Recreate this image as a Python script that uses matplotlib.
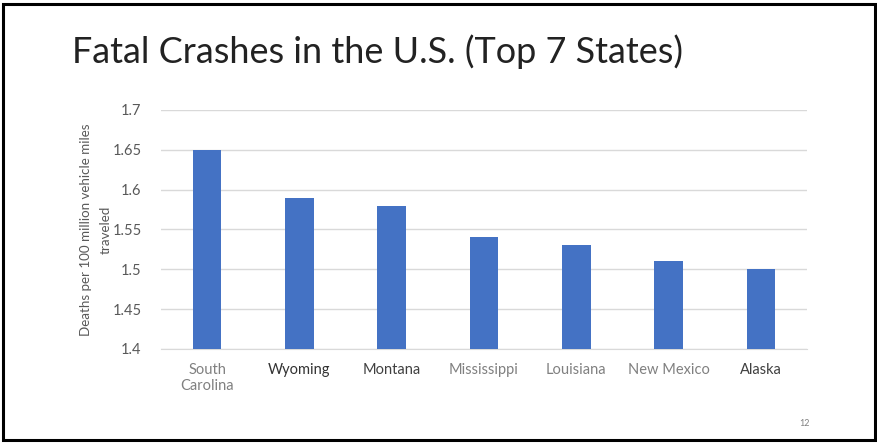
import matplotlib
matplotlib.use("Agg")
import matplotlib.pyplot as plt
from matplotlib.patches import Rectangle

# Fatality rates for the seven highest states
states = ["South\nCarolina", "Wyoming", "Montana", "Mississippi", "Louisiana", "New Mexico", "Alaska"]
rates = [1.65, 1.59, 1.58, 1.54, 1.53, 1.51, 1.50]
y_ticks = [1.4, 1.45, 1.5, 1.55, 1.6, 1.65, 1.7]
y_tick_labels = ["1.4", "1.45", "1.5", "1.55", "1.6", "1.65", "1.7"]
label_colors = ["#808080", "#333333", "#404040", "#808080", "#808080", "#808080", "#404040"]

plt.rcParams["font.family"] = ["Lato", "DejaVu Sans"]

W, H = 878, 445
fig = plt.figure(figsize=(W / 100, H / 100), dpi=100)
fig.patch.set_facecolor("white")

# slide border
fig.add_artist(Rectangle((3 / W, 5 / H), (W - 6) / W, (H - 9) / H,
                         transform=fig.transFigure, fill=False,
                         edgecolor="black", linewidth=2.2))

fig.text(72 / W, 1 - 63 / H, "Fatal Crashes in the U.S. (Top 7 States)",
         fontsize=25.9, color="#222222", fontweight="normal", va="baseline", ha="left")

ax = fig.add_axes([161 / W, 1 - 349 / H, (807 - 161) / W, (349 - 110) / H])
x = range(len(states))
ax.bar(x, rates, width=0.31, color="#4472C4", zorder=3)
ax.set_ylim(1.4, 1.7)
ax.set_xlim(-0.5, len(states) - 0.5)
ax.set_yticks(y_ticks)
ax.set_yticklabels(y_tick_labels)
ax.set_xticks(list(x))
ax.set_xticklabels(states)
for lbl, c in zip(ax.get_xticklabels(), label_colors):
    lbl.set_color(c)
ax.grid(axis="y", color="#D9D9D9", linewidth=1, zorder=0)
for s in ["top", "right", "left"]:
    ax.spines[s].set_visible(False)
ax.spines["bottom"].set_color("#D9D9D9")
ax.tick_params(axis="both", length=0, labelsize=10.5)
ax.tick_params(axis="y", colors="#595959", pad=14)
ax.tick_params(axis="x", pad=10)

fig.text(96 / W, 1 - 230 / H, "Deaths per 100 million vehicle miles\ntraveled",
         rotation=90, ha="center", va="center", fontsize=9.6, color="#595959",
         linespacing=1.7)

fig.text(805 / W, 1 - 423 / H, "12", fontsize=6.5, color="#808080", ha="center", va="center")

fig.savefig("out.png", dpi=100)
